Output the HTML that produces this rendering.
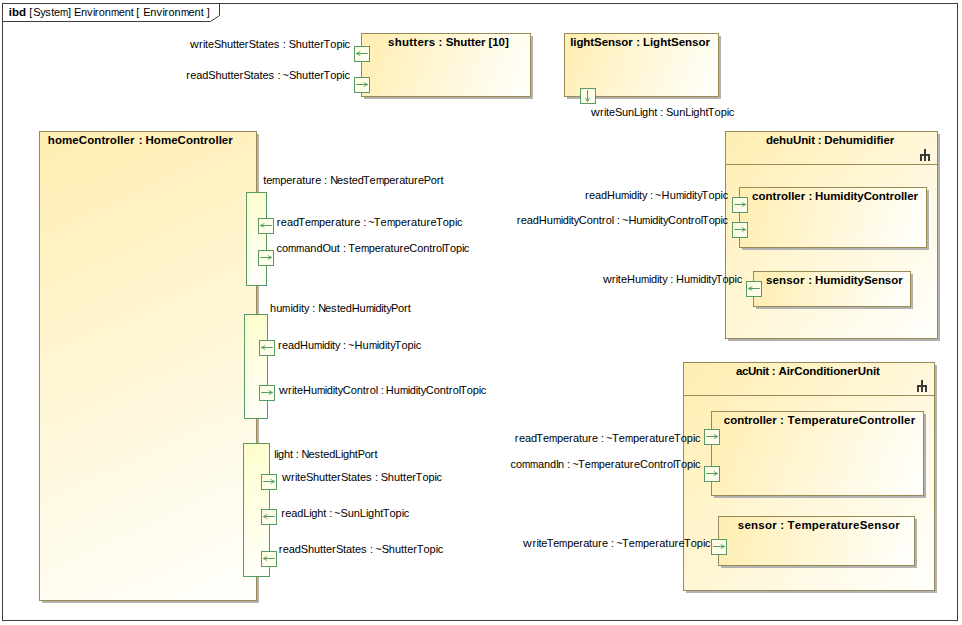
<!DOCTYPE html>
<html><head><meta charset="utf-8"><title>ibd Environment</title>
<style>
html,body{margin:0;padding:0;background:#fff;}
body{width:962px;height:625px;position:relative;overflow:hidden;font-family:"Liberation Sans",sans-serif;font-size:11px;color:#000000;}
.t{position:absolute;white-space:pre;line-height:13px;height:13px;font-size:11px;font-kerning:none;}
.b{font-weight:bold;font-size:11.5px;}
.t i{display:inline-block;font-style:normal;margin-right:var(--s,0px);}
.sm{transform:scaleX(.9);transform-origin:0 0;}
.sw{transform:scaleX(1.1);transform-origin:0 0;}
.sc{position:relative;left:-.7px;}
.sq{position:relative;left:.6px;}
.k2{width:2px;}
.k3{width:3px;}
.k4{width:4px;}
.k5{width:5px;}
.k5_5{width:5.5px;}
.k6{width:6px;}
.k7{width:7px;}
.k8{width:8px;}
.k9{width:9px;}
.blk{position:absolute;box-sizing:border-box;border:1px solid #978a55;}
.sh{position:absolute;background:#b2b2b2;}
.sep{position:absolute;height:1px;background:#978a55;}
.ic{position:absolute;display:block;}
.port{position:absolute;box-sizing:border-box;width:16px;height:16px;border:1px solid #589a64;background:linear-gradient(135deg,#fefcdc,#fffff5);}
.port svg{display:block;}
.nport{position:absolute;box-sizing:border-box;border:1px solid #589a64;background:linear-gradient(165deg,#fdfdcd,#fffffa);}
</style></head><body>
<div style="position:absolute;left:2px;top:3px;width:956px;height:618px;border:1px solid #3e3e3e;box-sizing:border-box"></div>
<svg style="position:absolute;left:0;top:0" width="962" height="625"><path d="M2.5 21.5H210.5L219.5 15.5V3.5" fill="none" stroke="#3e3e3e" stroke-width="1"/></svg>
<div class="sh" style="left:364px;top:36px;width:169px;height:63px;"></div>
<div class="blk" style="left:361px;top:33px;width:170px;height:64px;background:linear-gradient(110.63deg,#ffeeb1,#fffffd);"></div>
<div class="sh" style="left:567px;top:36px;width:154px;height:63px;"></div>
<div class="blk" style="left:564px;top:33px;width:155px;height:64px;background:linear-gradient(112.44deg,#ffeeb1,#fffffd);"></div>
<div class="sh" style="left:42px;top:134px;width:217px;height:469px;"></div>
<div class="blk" style="left:39px;top:131px;width:218px;height:470px;background:linear-gradient(155.12deg,#ffeeb1,#fffffd);"></div>
<div class="sh" style="left:728px;top:134px;width:212px;height:207px;"></div>
<div class="blk" style="left:725px;top:131px;width:213px;height:208px;background:linear-gradient(134.32deg,#ffeeb1,#fffffd);"></div>
<div class="sep" style="left:725px;top:164px;width:213px;"></div>
<svg class="ic" style="left:920px;top:149px" width="10" height="12" viewBox="0 0 10 12"><path d="M4 0h2v5h4v7h-2v-5h-2v5h-2v-5h-2v5h-2v-7h4z" fill="#3a3a3a"/></svg>
<div class="sh" style="left:742px;top:190px;width:187px;height:60px;"></div>
<div class="blk" style="left:739px;top:187px;width:188px;height:61px;background:linear-gradient(107.98deg,#ffeeb1,#fffffd);"></div>
<div class="sh" style="left:756px;top:274px;width:157px;height:35px;"></div>
<div class="blk" style="left:753px;top:271px;width:158px;height:36px;background:linear-gradient(102.84deg,#ffeeb1,#fffffd);"></div>
<div class="sh" style="left:686px;top:365px;width:251px;height:228px;"></div>
<div class="blk" style="left:683px;top:362px;width:252px;height:229px;background:linear-gradient(132.26deg,#ffeeb1,#fffffd);"></div>
<div class="sep" style="left:683px;top:395px;width:252px;"></div>
<svg class="ic" style="left:917px;top:380px" width="10" height="12" viewBox="0 0 10 12"><path d="M4 0h2v5h4v7h-2v-5h-2v5h-2v-5h-2v5h-2v-7h4z" fill="#3a3a3a"/></svg>
<div class="sh" style="left:714px;top:414px;width:212px;height:84px;"></div>
<div class="blk" style="left:711px;top:411px;width:213px;height:85px;background:linear-gradient(111.76deg,#ffeeb1,#fffffd);"></div>
<div class="sh" style="left:721px;top:519px;width:196px;height:49px;"></div>
<div class="blk" style="left:718px;top:516px;width:197px;height:50px;background:linear-gradient(104.24deg,#ffeeb1,#fffffd);"></div>
<div class="nport" style="left:246px;top:192px;width:21px;height:94px;"></div>
<div class="nport" style="left:244px;top:314px;width:24px;height:105px;"></div>
<div class="nport" style="left:243px;top:443px;width:27px;height:134px;"></div>
<div class="port" style="left:354px;top:46px;"><svg width="14" height="14" viewBox="0 0 14 14"><path d="M12.8 6.5H1.4" fill="none" stroke="#579a62" stroke-width="1"/><path d="M5.3 4.5L1.3 6.5L5.3 8.5" fill="none" stroke="#579a62" stroke-width="0.9"/></svg></div>
<div class="port" style="left:354px;top:77px;"><svg width="14" height="14" viewBox="0 0 14 14"><path d="M1.2 6.5H12.6" fill="none" stroke="#579a62" stroke-width="1"/><path d="M8.7 4.5L12.7 6.5L8.7 8.5" fill="none" stroke="#579a62" stroke-width="0.9"/></svg></div>
<div class="port" style="left:580px;top:88px;"><svg width="14" height="14" viewBox="0 0 14 14"><path d="M6.5 1.2V12.6" fill="none" stroke="#579a62" stroke-width="1"/><path d="M4.5 8.7L6.5 12.7L8.5 8.7" fill="none" stroke="#579a62" stroke-width="0.9"/></svg></div>
<div class="port" style="left:258px;top:218px;"><svg width="14" height="14" viewBox="0 0 14 14"><path d="M12.8 6.5H1.4" fill="none" stroke="#579a62" stroke-width="1"/><path d="M5.3 4.5L1.3 6.5L5.3 8.5" fill="none" stroke="#579a62" stroke-width="0.9"/></svg></div>
<div class="port" style="left:258px;top:250px;"><svg width="14" height="14" viewBox="0 0 14 14"><path d="M1.2 6.5H12.6" fill="none" stroke="#579a62" stroke-width="1"/><path d="M8.7 4.5L12.7 6.5L8.7 8.5" fill="none" stroke="#579a62" stroke-width="0.9"/></svg></div>
<div class="port" style="left:259px;top:340px;"><svg width="14" height="14" viewBox="0 0 14 14"><path d="M12.8 6.5H1.4" fill="none" stroke="#579a62" stroke-width="1"/><path d="M5.3 4.5L1.3 6.5L5.3 8.5" fill="none" stroke="#579a62" stroke-width="0.9"/></svg></div>
<div class="port" style="left:259px;top:385px;"><svg width="14" height="14" viewBox="0 0 14 14"><path d="M1.2 6.5H12.6" fill="none" stroke="#579a62" stroke-width="1"/><path d="M8.7 4.5L12.7 6.5L8.7 8.5" fill="none" stroke="#579a62" stroke-width="0.9"/></svg></div>
<div class="port" style="left:261px;top:474px;"><svg width="14" height="14" viewBox="0 0 14 14"><path d="M1.2 6.5H12.6" fill="none" stroke="#579a62" stroke-width="1"/><path d="M8.7 4.5L12.7 6.5L8.7 8.5" fill="none" stroke="#579a62" stroke-width="0.9"/></svg></div>
<div class="port" style="left:261px;top:509px;"><svg width="14" height="14" viewBox="0 0 14 14"><path d="M12.8 6.5H1.4" fill="none" stroke="#579a62" stroke-width="1"/><path d="M5.3 4.5L1.3 6.5L5.3 8.5" fill="none" stroke="#579a62" stroke-width="0.9"/></svg></div>
<div class="port" style="left:261px;top:551px;"><svg width="14" height="14" viewBox="0 0 14 14"><path d="M12.8 6.5H1.4" fill="none" stroke="#579a62" stroke-width="1"/><path d="M5.3 4.5L1.3 6.5L5.3 8.5" fill="none" stroke="#579a62" stroke-width="0.9"/></svg></div>
<div class="port" style="left:732px;top:197px;"><svg width="14" height="14" viewBox="0 0 14 14"><path d="M1.2 6.5H12.6" fill="none" stroke="#579a62" stroke-width="1"/><path d="M8.7 4.5L12.7 6.5L8.7 8.5" fill="none" stroke="#579a62" stroke-width="0.9"/></svg></div>
<div class="port" style="left:732px;top:222px;"><svg width="14" height="14" viewBox="0 0 14 14"><path d="M1.2 6.5H12.6" fill="none" stroke="#579a62" stroke-width="1"/><path d="M8.7 4.5L12.7 6.5L8.7 8.5" fill="none" stroke="#579a62" stroke-width="0.9"/></svg></div>
<div class="port" style="left:746px;top:281px;"><svg width="14" height="14" viewBox="0 0 14 14"><path d="M12.8 6.5H1.4" fill="none" stroke="#579a62" stroke-width="1"/><path d="M5.3 4.5L1.3 6.5L5.3 8.5" fill="none" stroke="#579a62" stroke-width="0.9"/></svg></div>
<div class="port" style="left:704px;top:429px;"><svg width="14" height="14" viewBox="0 0 14 14"><path d="M1.2 6.5H12.6" fill="none" stroke="#579a62" stroke-width="1"/><path d="M8.7 4.5L12.7 6.5L8.7 8.5" fill="none" stroke="#579a62" stroke-width="0.9"/></svg></div>
<div class="port" style="left:704px;top:466px;"><svg width="14" height="14" viewBox="0 0 14 14"><path d="M1.2 6.5H12.6" fill="none" stroke="#579a62" stroke-width="1"/><path d="M8.7 4.5L12.7 6.5L8.7 8.5" fill="none" stroke="#579a62" stroke-width="0.9"/></svg></div>
<div class="port" style="left:711px;top:539px;"><svg width="14" height="14" viewBox="0 0 14 14"><path d="M1.2 6.5H12.6" fill="none" stroke="#579a62" stroke-width="1"/><path d="M8.7 4.5L12.7 6.5L8.7 8.5" fill="none" stroke="#579a62" stroke-width="0.9"/></svg></div>
<div class="t b" style="left:8.87px;top:6px;letter-spacing:-0.055px;">ibd</div>
<div class="t" style="left:29.27px;top:6px;--s:-0.036px;"><i class="k4">[</i><i class="k7">S</i><i class="k5">y</i><i class="k6">s</i><i class="k3">t</i><i class="k6">e</i><i class="k8 sm">m</i><i class="k3">]</i><i class="k3"> </i><i class="k7">E</i><i class="k6">n</i><i class="k6">v</i><i class="k2">i</i><i class="k4">r</i><i class="k6">o</i><i class="k6">n</i><i class="k8 sm">m</i><i class="k6">e</i><i class="k6">n</i><i class="k3">t</i></div>
<div class="t" style="left:136.25px;top:6px;--s:0.034px;"><i class="k4">[</i><i class="k3"> </i><i class="k7">E</i><i class="k6">n</i><i class="k6">v</i><i class="k2">i</i><i class="k4">r</i><i class="k6">o</i><i class="k6">n</i><i class="k8 sm">m</i><i class="k6">e</i><i class="k6">n</i><i class="k3">t</i><i class="k3"> </i><i class="k3">]</i></div>
<div class="t b" style="left:388.00px;top:36px;letter-spacing:0.260px;">shutters</div>
<div class="t b" style="left:438.45px;top:36px;">:</div>
<div class="t b" style="left:445.75px;top:36px;letter-spacing:-0.081px;">Shutter [10]</div>
<div class="t b" style="left:570.14px;top:36px;letter-spacing:-0.067px;">lightSensor</div>
<div class="t b" style="left:636.15px;top:36px;">:</div>
<div class="t b" style="left:642.91px;top:36px;letter-spacing:-0.001px;">LightSensor</div>
<div class="t b" style="left:47.80px;top:134px;letter-spacing:0.083px;">homeController</div>
<div class="t b" style="left:138.70px;top:134px;">:</div>
<div class="t b" style="left:145.53px;top:134px;letter-spacing:0.027px;">HomeController</div>
<div class="t b" style="left:765.88px;top:134px;letter-spacing:-0.104px;">dehuUnit</div>
<div class="t b" style="left:817.85px;top:134px;">:</div>
<div class="t b" style="left:824.13px;top:134px;letter-spacing:-0.011px;">Dehumidifier</div>
<div class="t b" style="left:752.06px;top:190px;letter-spacing:0.017px;">controller</div>
<div class="t b" style="left:808.50px;top:190px;">:</div>
<div class="t b" style="left:814.93px;top:190px;letter-spacing:-0.061px;">HumidityController</div>
<div class="t b" style="left:766.03px;top:274px;letter-spacing:0.143px;">sensor</div>
<div class="t b" style="left:808.30px;top:274px;">:</div>
<div class="t b" style="left:815.10px;top:274px;letter-spacing:-0.046px;">HumiditySensor</div>
<div class="t b" style="left:735.96px;top:365px;letter-spacing:-0.418px;">acUnit</div>
<div class="t b" style="left:771.65px;top:365px;">:</div>
<div class="t b" style="left:778.46px;top:365px;letter-spacing:-0.086px;">AirConditionerUnit</div>
<div class="t b" style="left:723.78px;top:414px;letter-spacing:-0.013px;">controller</div>
<div class="t b" style="left:779.90px;top:414px;">:</div>
<div class="t b" style="left:787.44px;top:414px;letter-spacing:0.153px;">TemperatureController</div>
<div class="t b" style="left:737.83px;top:519px;letter-spacing:0.221px;">sensor</div>
<div class="t b" style="left:780.30px;top:519px;">:</div>
<div class="t b" style="left:787.57px;top:519px;letter-spacing:0.220px;">TemperatureSensor</div>
<div class="t" style="left:190.03px;top:38px;--s:-0.019px;"><i class="k9 sw">w</i><i class="k4">r</i><i class="k2">i</i><i class="k3">t</i><i class="k6">e</i><i class="k7">S</i><i class="k6">h</i><i class="k6">u</i><i class="k3">t</i><i class="k3">t</i><i class="k6">e</i><i class="k4">r</i><i class="k7">S</i><i class="k3">t</i><i class="k6">a</i><i class="k3">t</i><i class="k6">e</i><i class="k6">s</i><i class="k3"> </i><i class="k3">:</i></div>
<div class="t" style="left:288.71px;top:38px;--s:0.092px;"><i class="k7">S</i><i class="k6">h</i><i class="k6">u</i><i class="k3">t</i><i class="k3">t</i><i class="k6">e</i><i class="k4">r</i><i class="k6 sc">T</i><i class="k6">o</i><i class="k6">p</i><i class="k2">i</i><i class="k5_5">c</i></div>
<div class="t" style="left:186.31px;top:69px;--s:0.028px;"><i class="k4">r</i><i class="k6">e</i><i class="k6">a</i><i class="k6">d</i><i class="k7">S</i><i class="k6">h</i><i class="k6">u</i><i class="k3">t</i><i class="k3">t</i><i class="k6">e</i><i class="k4">r</i><i class="k7">S</i><i class="k3">t</i><i class="k6">a</i><i class="k3">t</i><i class="k6">e</i><i class="k6">s</i><i class="k3"> </i><i class="k3">:</i></div>
<div class="t" style="left:282.01px;top:69px;--s:0.041px;"><i class="k7 sq">~</i><i class="k7">S</i><i class="k6">h</i><i class="k6">u</i><i class="k3">t</i><i class="k3">t</i><i class="k6">e</i><i class="k4">r</i><i class="k6 sc">T</i><i class="k6">o</i><i class="k6">p</i><i class="k2">i</i><i class="k5_5">c</i></div>
<div class="t" style="left:590.96px;top:106px;--s:0.024px;"><i class="k9 sw">w</i><i class="k4">r</i><i class="k2">i</i><i class="k3">t</i><i class="k6">e</i><i class="k7">S</i><i class="k6">u</i><i class="k6">n</i><i class="k6">L</i><i class="k2">i</i><i class="k6">g</i><i class="k6">h</i><i class="k3">t</i><i class="k3"> </i><i class="k3">:</i></div>
<div class="t" style="left:666.06px;top:106px;--s:0.065px;"><i class="k7">S</i><i class="k6">u</i><i class="k6">n</i><i class="k6">L</i><i class="k2">i</i><i class="k6">g</i><i class="k6">h</i><i class="k3">t</i><i class="k6 sc">T</i><i class="k6">o</i><i class="k6">p</i><i class="k2">i</i><i class="k5_5">c</i></div>
<div class="t" style="left:263.31px;top:174px;--s:-0.016px;"><i class="k3">t</i><i class="k6">e</i><i class="k8 sm">m</i><i class="k6">p</i><i class="k6">e</i><i class="k4">r</i><i class="k6">a</i><i class="k3">t</i><i class="k6">u</i><i class="k4">r</i><i class="k6">e</i><i class="k3"> </i><i class="k3">:</i></div>
<div class="t" style="left:330.13px;top:174px;--s:-0.082px;"><i class="k7">N</i><i class="k6">e</i><i class="k6">s</i><i class="k3">t</i><i class="k6">e</i><i class="k6">d</i><i class="k6 sc">T</i><i class="k6">e</i><i class="k8 sm">m</i><i class="k6">p</i><i class="k6">e</i><i class="k4">r</i><i class="k6">a</i><i class="k3">t</i><i class="k6">u</i><i class="k4">r</i><i class="k6">e</i><i class="k7">P</i><i class="k6">o</i><i class="k4">r</i><i class="k3">t</i></div>
<div class="t" style="left:276.82px;top:216px;--s:0.039px;"><i class="k4">r</i><i class="k6">e</i><i class="k6">a</i><i class="k6">d</i><i class="k6 sc">T</i><i class="k6">e</i><i class="k8 sm">m</i><i class="k6">p</i><i class="k6">e</i><i class="k4">r</i><i class="k6">a</i><i class="k3">t</i><i class="k6">u</i><i class="k4">r</i><i class="k6">e</i><i class="k3"> </i><i class="k3">:</i></div>
<div class="t" style="left:367.34px;top:216px;--s:0.116px;"><i class="k7 sq">~</i><i class="k6 sc">T</i><i class="k6">e</i><i class="k8 sm">m</i><i class="k6">p</i><i class="k6">e</i><i class="k4">r</i><i class="k6">a</i><i class="k3">t</i><i class="k6">u</i><i class="k4">r</i><i class="k6">e</i><i class="k6 sc">T</i><i class="k6">o</i><i class="k6">p</i><i class="k2">i</i><i class="k5_5">c</i></div>
<div class="t" style="left:276.38px;top:242px;--s:0.103px;"><i class="k5_5">c</i><i class="k6">o</i><i class="k8 sm">m</i><i class="k8 sm">m</i><i class="k6">a</i><i class="k6">n</i><i class="k6">d</i><i class="k8">O</i><i class="k6">u</i><i class="k3">t</i><i class="k3"> </i><i class="k3">:</i></div>
<div class="t" style="left:348.86px;top:242px;--s:-0.051px;"><i class="k6 sc">T</i><i class="k6">e</i><i class="k8 sm">m</i><i class="k6">p</i><i class="k6">e</i><i class="k4">r</i><i class="k6">a</i><i class="k3">t</i><i class="k6">u</i><i class="k4">r</i><i class="k6">e</i><i class="k8">C</i><i class="k6">o</i><i class="k6">n</i><i class="k3">t</i><i class="k4">r</i><i class="k6">o</i><i class="k2">l</i><i class="k6 sc">T</i><i class="k6">o</i><i class="k6">p</i><i class="k2">i</i><i class="k5_5">c</i></div>
<div class="t" style="left:270.05px;top:302px;--s:0.153px;"><i class="k6">h</i><i class="k6">u</i><i class="k8 sm">m</i><i class="k2">i</i><i class="k6">d</i><i class="k2">i</i><i class="k3">t</i><i class="k5">y</i><i class="k3"> </i><i class="k3">:</i></div>
<div class="t" style="left:318.17px;top:302px;--s:-0.082px;"><i class="k7">N</i><i class="k6">e</i><i class="k6">s</i><i class="k3">t</i><i class="k6">e</i><i class="k6">d</i><i class="k8">H</i><i class="k6">u</i><i class="k8 sm">m</i><i class="k2">i</i><i class="k6">d</i><i class="k2">i</i><i class="k3">t</i><i class="k5">y</i><i class="k7">P</i><i class="k6">o</i><i class="k4">r</i><i class="k3">t</i></div>
<div class="t" style="left:277.94px;top:339px;--s:-0.015px;"><i class="k4">r</i><i class="k6">e</i><i class="k6">a</i><i class="k6">d</i><i class="k8">H</i><i class="k6">u</i><i class="k8 sm">m</i><i class="k2">i</i><i class="k6">d</i><i class="k2">i</i><i class="k3">t</i><i class="k5">y</i><i class="k3"> </i><i class="k3">:</i></div>
<div class="t" style="left:347.31px;top:339px;--s:0.120px;"><i class="k7 sq">~</i><i class="k8">H</i><i class="k6">u</i><i class="k8 sm">m</i><i class="k2">i</i><i class="k6">d</i><i class="k2">i</i><i class="k3">t</i><i class="k5">y</i><i class="k6 sc">T</i><i class="k6">o</i><i class="k6">p</i><i class="k2">i</i><i class="k5_5">c</i></div>
<div class="t" style="left:278.98px;top:384px;--s:-0.030px;"><i class="k9 sw">w</i><i class="k4">r</i><i class="k2">i</i><i class="k3">t</i><i class="k6">e</i><i class="k8">H</i><i class="k6">u</i><i class="k8 sm">m</i><i class="k2">i</i><i class="k6">d</i><i class="k2">i</i><i class="k3">t</i><i class="k5">y</i><i class="k8">C</i><i class="k6">o</i><i class="k6">n</i><i class="k3">t</i><i class="k4">r</i><i class="k6">o</i><i class="k2">l</i><i class="k3"> </i><i class="k3">:</i></div>
<div class="t" style="left:385.80px;top:384px;--s:-0.015px;"><i class="k8">H</i><i class="k6">u</i><i class="k8 sm">m</i><i class="k2">i</i><i class="k6">d</i><i class="k2">i</i><i class="k3">t</i><i class="k5">y</i><i class="k8">C</i><i class="k6">o</i><i class="k6">n</i><i class="k3">t</i><i class="k4">r</i><i class="k6">o</i><i class="k2">l</i><i class="k6 sc">T</i><i class="k6">o</i><i class="k6">p</i><i class="k2">i</i><i class="k5_5">c</i></div>
<div class="t" style="left:274.28px;top:448px;--s:-0.094px;"><i class="k2">l</i><i class="k2">i</i><i class="k6">g</i><i class="k6">h</i><i class="k3">t</i><i class="k3"> </i><i class="k3">:</i></div>
<div class="t" style="left:301.58px;top:448px;--s:-0.082px;"><i class="k7">N</i><i class="k6">e</i><i class="k6">s</i><i class="k3">t</i><i class="k6">e</i><i class="k6">d</i><i class="k6">L</i><i class="k2">i</i><i class="k6">g</i><i class="k6">h</i><i class="k3">t</i><i class="k7">P</i><i class="k6">o</i><i class="k4">r</i><i class="k3">t</i></div>
<div class="t" style="left:281.95px;top:471px;--s:-0.013px;"><i class="k9 sw">w</i><i class="k4">r</i><i class="k2">i</i><i class="k3">t</i><i class="k6">e</i><i class="k7">S</i><i class="k6">h</i><i class="k6">u</i><i class="k3">t</i><i class="k3">t</i><i class="k6">e</i><i class="k4">r</i><i class="k7">S</i><i class="k3">t</i><i class="k6">a</i><i class="k3">t</i><i class="k6">e</i><i class="k6">s</i><i class="k3"> </i><i class="k3">:</i></div>
<div class="t" style="left:380.76px;top:471px;--s:0.084px;"><i class="k7">S</i><i class="k6">h</i><i class="k6">u</i><i class="k3">t</i><i class="k3">t</i><i class="k6">e</i><i class="k4">r</i><i class="k6 sc">T</i><i class="k6">o</i><i class="k6">p</i><i class="k2">i</i><i class="k5_5">c</i></div>
<div class="t" style="left:281.19px;top:507px;--s:-0.007px;"><i class="k4">r</i><i class="k6">e</i><i class="k6">a</i><i class="k6">d</i><i class="k6">L</i><i class="k2">i</i><i class="k6">g</i><i class="k6">h</i><i class="k3">t</i><i class="k3"> </i><i class="k3">:</i></div>
<div class="t" style="left:333.41px;top:507px;--s:0.120px;"><i class="k7 sq">~</i><i class="k7">S</i><i class="k6">u</i><i class="k6">n</i><i class="k6">L</i><i class="k2">i</i><i class="k6">g</i><i class="k6">h</i><i class="k3">t</i><i class="k6 sc">T</i><i class="k6">o</i><i class="k6">p</i><i class="k2">i</i><i class="k5_5">c</i></div>
<div class="t" style="left:278.81px;top:543px;--s:0.028px;"><i class="k4">r</i><i class="k6">e</i><i class="k6">a</i><i class="k6">d</i><i class="k7">S</i><i class="k6">h</i><i class="k6">u</i><i class="k3">t</i><i class="k3">t</i><i class="k6">e</i><i class="k4">r</i><i class="k7">S</i><i class="k3">t</i><i class="k6">a</i><i class="k3">t</i><i class="k6">e</i><i class="k6">s</i><i class="k3"> </i><i class="k3">:</i></div>
<div class="t" style="left:374.61px;top:543px;--s:0.097px;"><i class="k7 sq">~</i><i class="k7">S</i><i class="k6">h</i><i class="k6">u</i><i class="k3">t</i><i class="k3">t</i><i class="k6">e</i><i class="k4">r</i><i class="k6 sc">T</i><i class="k6">o</i><i class="k6">p</i><i class="k2">i</i><i class="k5_5">c</i></div>
<div class="t" style="left:584.94px;top:189px;--s:0.004px;"><i class="k4">r</i><i class="k6">e</i><i class="k6">a</i><i class="k6">d</i><i class="k8">H</i><i class="k6">u</i><i class="k8 sm">m</i><i class="k2">i</i><i class="k6">d</i><i class="k2">i</i><i class="k3">t</i><i class="k5">y</i><i class="k3"> </i><i class="k3">:</i></div>
<div class="t" style="left:654.46px;top:189px;--s:0.095px;"><i class="k7 sq">~</i><i class="k8">H</i><i class="k6">u</i><i class="k8 sm">m</i><i class="k2">i</i><i class="k6">d</i><i class="k2">i</i><i class="k3">t</i><i class="k5">y</i><i class="k6 sc">T</i><i class="k6">o</i><i class="k6">p</i><i class="k2">i</i><i class="k5_5">c</i></div>
<div class="t" style="left:516.79px;top:214px;--s:-0.015px;"><i class="k4">r</i><i class="k6">e</i><i class="k6">a</i><i class="k6">d</i><i class="k8">H</i><i class="k6">u</i><i class="k8 sm">m</i><i class="k2">i</i><i class="k6">d</i><i class="k2">i</i><i class="k3">t</i><i class="k5">y</i><i class="k8">C</i><i class="k6">o</i><i class="k6">n</i><i class="k3">t</i><i class="k4">r</i><i class="k6">o</i><i class="k2">l</i><i class="k3"> </i><i class="k3">:</i></div>
<div class="t" style="left:621.44px;top:214px;--s:-0.047px;"><i class="k7 sq">~</i><i class="k8">H</i><i class="k6">u</i><i class="k8 sm">m</i><i class="k2">i</i><i class="k6">d</i><i class="k2">i</i><i class="k3">t</i><i class="k5">y</i><i class="k8">C</i><i class="k6">o</i><i class="k6">n</i><i class="k3">t</i><i class="k4">r</i><i class="k6">o</i><i class="k2">l</i><i class="k6 sc">T</i><i class="k6">o</i><i class="k6">p</i><i class="k2">i</i><i class="k5_5">c</i></div>
<div class="t" style="left:602.78px;top:273px;--s:0.032px;"><i class="k9 sw">w</i><i class="k4">r</i><i class="k2">i</i><i class="k3">t</i><i class="k6">e</i><i class="k8">H</i><i class="k6">u</i><i class="k8 sm">m</i><i class="k2">i</i><i class="k6">d</i><i class="k2">i</i><i class="k3">t</i><i class="k5">y</i><i class="k3"> </i><i class="k3">:</i></div>
<div class="t" style="left:676.07px;top:273px;--s:0.054px;"><i class="k8">H</i><i class="k6">u</i><i class="k8 sm">m</i><i class="k2">i</i><i class="k6">d</i><i class="k2">i</i><i class="k3">t</i><i class="k5">y</i><i class="k6 sc">T</i><i class="k6">o</i><i class="k6">p</i><i class="k2">i</i><i class="k5_5">c</i></div>
<div class="t" style="left:514.86px;top:432px;--s:0.025px;"><i class="k4">r</i><i class="k6">e</i><i class="k6">a</i><i class="k6">d</i><i class="k6 sc">T</i><i class="k6">e</i><i class="k8 sm">m</i><i class="k6">p</i><i class="k6">e</i><i class="k4">r</i><i class="k6">a</i><i class="k3">t</i><i class="k6">u</i><i class="k4">r</i><i class="k6">e</i><i class="k3"> </i><i class="k3">:</i></div>
<div class="t" style="left:605.51px;top:432px;--s:0.096px;"><i class="k7 sq">~</i><i class="k6 sc">T</i><i class="k6">e</i><i class="k8 sm">m</i><i class="k6">p</i><i class="k6">e</i><i class="k4">r</i><i class="k6">a</i><i class="k3">t</i><i class="k6">u</i><i class="k4">r</i><i class="k6">e</i><i class="k6 sc">T</i><i class="k6">o</i><i class="k6">p</i><i class="k2">i</i><i class="k5_5">c</i></div>
<div class="t" style="left:510.57px;top:458px;--s:-0.018px;"><i class="k5_5">c</i><i class="k6">o</i><i class="k8 sm">m</i><i class="k8 sm">m</i><i class="k6">a</i><i class="k6">n</i><i class="k6">d</i><i class="k2">I</i><i class="k6">n</i><i class="k3"> </i><i class="k3">:</i></div>
<div class="t" style="left:571.71px;top:458px;--s:0.018px;"><i class="k7 sq">~</i><i class="k6 sc">T</i><i class="k6">e</i><i class="k8 sm">m</i><i class="k6">p</i><i class="k6">e</i><i class="k4">r</i><i class="k6">a</i><i class="k3">t</i><i class="k6">u</i><i class="k4">r</i><i class="k6">e</i><i class="k8">C</i><i class="k6">o</i><i class="k6">n</i><i class="k3">t</i><i class="k4">r</i><i class="k6">o</i><i class="k2">l</i><i class="k6 sc">T</i><i class="k6">o</i><i class="k6">p</i><i class="k2">i</i><i class="k5_5">c</i></div>
<div class="t" style="left:523.48px;top:537px;--s:-0.033px;"><i class="k9 sw">w</i><i class="k4">r</i><i class="k2">i</i><i class="k3">t</i><i class="k6">e</i><i class="k6 sc">T</i><i class="k6">e</i><i class="k8 sm">m</i><i class="k6">p</i><i class="k6">e</i><i class="k4">r</i><i class="k6">a</i><i class="k3">t</i><i class="k6">u</i><i class="k4">r</i><i class="k6">e</i><i class="k3"> </i><i class="k3">:</i></div>
<div class="t" style="left:615.71px;top:537px;--s:0.082px;"><i class="k7 sq">~</i><i class="k6 sc">T</i><i class="k6">e</i><i class="k8 sm">m</i><i class="k6">p</i><i class="k6">e</i><i class="k4">r</i><i class="k6">a</i><i class="k3">t</i><i class="k6">u</i><i class="k4">r</i><i class="k6">e</i><i class="k6 sc">T</i><i class="k6">o</i><i class="k6">p</i><i class="k2">i</i><i class="k5_5">c</i></div>
</body></html>
